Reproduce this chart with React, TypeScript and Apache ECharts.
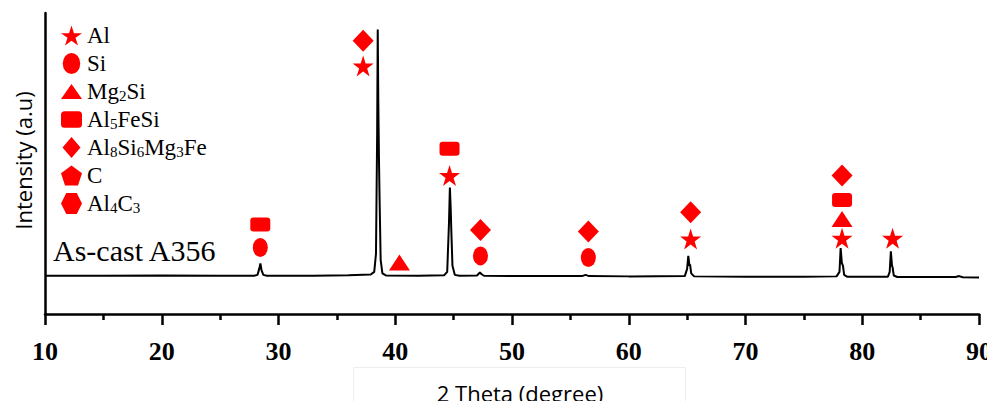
import React, { useEffect, useRef } from "react";
import * as echarts from "echarts";

// 2θ (degree) vs intensity (a.u.)
const spectrum: [number, number][] = [
  [10, 12.7], [15, 12.7], [20, 12.8], [25, 12.7], [27.9, 12.7],
  [28.2, 13], [28.35, 15], [28.45, 16.8], [28.55, 14.5], [28.7, 13], [29, 12.7],
  [33, 12.7], [36, 12.9], [37.9, 13.1], [38.2, 14], [38.35, 20], [38.45, 60], [38.5, 94.5],
  [38.55, 70], [38.6, 53], [38.65, 40], [38.75, 18], [38.9, 13.5], [39.2, 12.8],
  [42, 12.7], [44.2, 12.9], [44.45, 14], [44.6, 30], [44.68, 42], [44.75, 35], [44.8, 28],
  [44.9, 16], [45.1, 13], [45.5, 12.7],
  [47, 12.8], [47.25, 13.8], [47.4, 13.2], [47.6, 12.7],
  [52, 12.6], [56, 12.6], [56.3, 13], [56.6, 12.6], [60, 12.5],
  [64.8, 12.6], [65, 15], [65.1, 19.3], [65.2, 16], [65.25, 16.5], [65.35, 13.5], [65.6, 12.5],
  [70, 12.4], [75, 12.4], [77.8, 12.5], [78.05, 14], [78.15, 21.9], [78.25, 17], [78.35, 16],
  [78.45, 13], [78.7, 12.4],
  [82.2, 12.4], [82.35, 14], [82.45, 20.8], [82.55, 16], [82.6, 15.5], [82.7, 12.8], [83, 12.3],
  [88, 12.3], [88.3, 12.6], [88.6, 12.2], [90, 12.1],
];

// phase markers [2θ, height]
const alPeaks: [number, number][] = [[37.25, 82.4], [44.65, 46], [65.3, 24.9], [78.27, 25.2], [82.6, 25.2]];
const siPeaks: [number, number][] = [[28.44, 22.1], [47.3, 19.3], [56.54, 18.8]];
const mg2siPeaks: [number, number][] = [[40.36, 17.1], [78.27, 31.6]];
const al5fesiPeaks: [number, number][] = [[28.44, 29.7], [44.65, 54.9], [78.27, 37.9]];
const al8Peaks: [number, number][] = [[37.25, 90.8], [47.3, 27.9], [56.54, 27.4], [65.3, 33.8], [78.27, 46]];
const cPeaks: [number, number][] = [];
const al4c3Peaks: [number, number][] = [];

const phaseNames = ["Al", "Si", "Mg2Si", "Al5FeSi", "Al8Si6Mg3Fe", "C", "Al4C3"];
const xTicks = [10, 20, 30, 40, 50, 60, 70, 80, 90];

const STAR = "path://M50 0 L61.23 34.55 L97.55 34.55 L68.17 55.9 L79.39 90.45 L50 69.1 L20.61 90.45 L31.83 55.9 L2.45 34.55 L38.77 34.55 Z";
const ELLIPSE = "path://M7.5 0 A7.5 9 0 1 1 7.5 18 A7.5 9 0 1 1 7.5 0 Z";
const TRI = "path://M10.5 0 L21 15 L0 15 Z";
const RRECT = "path://M3 0 L15 0 Q18 0 18 3 L18 11 Q18 14 15 14 L3 14 Q0 14 0 11 L0 3 Q0 0 3 0 Z";
const DIAM = "path://M9 0 L18 10.5 L9 21 L0 10.5 Z";
const PENTA = "path://M50 0 L97.55 34.55 L79.39 90.45 L20.61 90.45 L2.45 34.55 Z";
const HEXA = "path://M25 0 L75 0 L100 50 L75 100 L25 100 L0 50 Z";

const RED = "#ff0000";

function fmtName(name: string): string {
  // digits become subscripts
  return name.replace(/(\D+)|(\d+)/g, (m, a, d) => (a ? `{n|${a}}` : `{s|${d}}`));
}

export default function App() {
  const ref = useRef<HTMLDivElement>(null);
  useEffect(() => {
    if (!ref.current) return;
    const chart = echarts.init(ref.current, undefined, { renderer: "svg" });
    const mk = (name: string, data: [number, number][], symbol: string, size: any) => ({
      name,
      type: "scatter",
      data,
      symbol,
      symbolSize: size,
      itemStyle: { color: RED, opacity: 1 },
      z: 3,
    });
    chart.setOption({
      animation: false,
      backgroundColor: "#fff",
      grid: { left: 45, right: 16, top: 13, bottom: 95, outerBoundsMode: "none", containLabel: false },
      legend: {
        orient: "vertical",
        left: 61,
        top: 24,
        itemWidth: 21,
        itemHeight: 21,
        itemGap: 5,
        padding: 0,
        data: phaseNames,
        itemStyle: { opacity: 1 },
        formatter: (n: string) => fmtName(n),
        textStyle: {
          fontFamily: "Liberation Serif",
          color: "#000",
          fontSize: 23,
          rich: {
            n: { fontFamily: "Liberation Serif", fontSize: 23, lineHeight: 23, color: "#000" },
            s: { fontFamily: "Liberation Serif", fontSize: 15, lineHeight: 4, verticalAlign: "bottom", color: "#000" },
          },
        },
      },
      xAxis: {
        type: "value",
        min: 10,
        max: 90,
        interval: 10,
        name: "2 Theta (degree)",
        nameLocation: "middle",
        nameGap: 68,
        nameTextStyle: { fontFamily: "Open Sans", fontSize: 22, color: "#000", padding: [0, 0, 0, 16] },
        axisLine: { lineStyle: { color: "#000", width: 2.5 } },
        axisTick: { show: true, length: 11, lineStyle: { color: "#000", width: 2.5 } },
        minorTick: { show: true, splitNumber: 2, length: 6, lineStyle: { color: "#000", width: 2.5 } },
        axisLabel: {
          margin: 24,
          fontFamily: "Liberation Serif",
          fontWeight: "bold",
          fontSize: 26,
          color: "#000",
          formatter: (v: number) => (xTicks.includes(v) ? String(v) : ""),
        },
        splitLine: { show: false },
      },
      yAxis: {
        type: "value",
        min: 0,
        max: 100,
        name: "Intensity (a.u)",
        nameLocation: "middle",
        nameGap: 11,
        nameRotate: 90,
        nameTextStyle: { fontFamily: "Open Sans", fontSize: 22, color: "#000", padding: [0, 0, 0, 6] },
        axisLine: { show: true, lineStyle: { color: "#000", width: 2.5 } },
        axisTick: { show: false },
        axisLabel: { show: false },
        splitLine: { show: false },
      },
      graphic: [
        {
          type: "rect",
          left: 353,
          top: 367,
          shape: { width: 332, height: 50 },
          style: { fill: "#fff", stroke: "#eeeeee", lineWidth: 1 },
          z: -1,
        },
        {
          type: "text",
          left: 53,
          top: 235,
          style: { text: "As-cast A356", font: "30px 'Liberation Serif'", fill: "#000" },
        },
      ],
      series: [
        {
          name: "spectrum",
          type: "line",
          data: spectrum,
          showSymbol: false,
          symbol: "none",
          lineStyle: { color: "#000", width: 2 },
          z: 2,
        },
        mk("Al", alPeaks, STAR, 21),
        mk("Si", siPeaks, ELLIPSE, [15, 19]),
        mk("Mg2Si", mg2siPeaks, TRI, [21, 16]),
        mk("Al5FeSi", al5fesiPeaks, RRECT, [20, 14]),
        mk("Al8Si6Mg3Fe", al8Peaks, DIAM, [21, 22]),
        mk("C", cPeaks, PENTA, 18),
        mk("Al4C3", al4c3Peaks, HEXA, 18),
      ],
    });
    return () => chart.dispose();
  }, []);
  return <div ref={ref} style={{ width: 995, height: 409, margin: -8 }} />;
}
